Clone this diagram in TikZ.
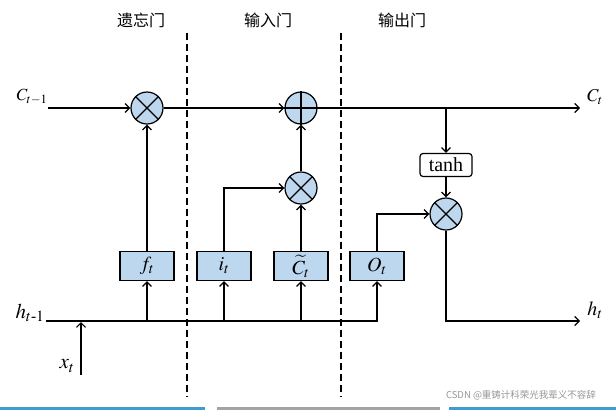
\documentclass[tikz,border=0pt]{standalone}
\usepackage{amsmath}
\usepackage{mathptmx}
\usepackage{fontspec}
\setmainfont{Liberation Serif}
\newfontfamily\cjk{Noto Sans CJK SC}
\usetikzlibrary{arrows.meta}
\definecolor{gatefill}{RGB}{189,215,238}
\definecolor{barblue}{RGB}{64,156,208}
\definecolor{bargray}{RGB}{163,163,163}
\definecolor{markgray}{RGB}{150,150,150}

\begin{document}
\begin{tikzpicture}[x=1pt, y=-1pt, line width=1.2pt,
        arr/.style={-{Straight Barb[length=4.5pt,width=9pt]}},
        gate/.style={draw, fill=gatefill, minimum width=54pt, minimum height=29pt, inner sep=0pt, font=\fontsize{20}{20}\selectfont},
        op/.style={draw, circle, fill=gatefill, minimum size=32pt, inner sep=0pt},
        title/.style={font=\cjk\fontsize{16}{16}\selectfont},
        lbl/.style={font=\fontsize{#1}{#1}\selectfont},
        sep/.style={dash pattern=on 7pt off 4pt, line width=1.5pt}
    ]
        \useasboundingbox ( 0, 0 ) rectangle ( 616, 410 );

        % заголовки
        \node[title] (tforget) at ( 141, 20 ) {遗忘门};
        \node[title] (tinput) at ( 268, 20 ) {输入门};
        \node[title] (toutput) at ( 402, 20 ) {输出门};

        % границы
        \draw[sep] ( 187, 33 ) -- ( 187, 397 );
        \draw[sep] ( 341, 33 ) -- ( 341, 397 );

        % операции
        \node[op] (mulf) at ( 147, 108 ) {};
        \node[op] (addc) at ( 301, 108 ) {};
        \node[op] (muli) at ( 301, 188 ) {};
        \node[op] (mulo) at ( 446, 214 ) {};
        \foreach \m in {mulf, muli, mulo}
            \draw (\m.north west) -- (\m.south east) (\m.north east) -- (\m.south west);
        \draw (addc.north) -- (addc.south) (addc.west) -- (addc.east);

        % вентили
        \node[gate] (ft) at ( 147, 266 ) {$f_t$};
        \node[gate] (it) at ( 224, 266 ) {$i_t$};
        \node[gate] (ct) at ( 301, 266 ) {$\widetilde{C}_t$};
        \node[gate] (ot) at ( 377, 266 ) {$O_t$};
        \node[draw, rounded corners=3pt, fill=white, minimum width=52pt, minimum height=23pt, inner sep=0pt,
            font=\fontsize{20}{20}\selectfont] (tanh) at ( 446, 165 ) {tanh};

        % вход
        \node[lbl=17] (cprev) at ( 32, 97 ) {$C_{t-1}$};
        \node[lbl=21] (hprev) at ( 30, 313 ) {$h_{t\text{-}1}$};
        \node[lbl=21] (xcur) at ( 67, 366 ) {$x_t$};
        \coordinate (cin) at ( 48, 108 );
        \coordinate (hin) at ( 46, 321 );
        \coordinate (xin) at ( 81, 375 );
        \coordinate (xtop) at ( 81, 322 );

        % выход
        \node[lbl=18] (cnext) at ( 595, 97 ) {$C_t$};
        \node[lbl=20] (hnext) at ( 595, 310 ) {$h_t$};
        \coordinate (cout) at ( 580, 108 );
        \coordinate (hout) at ( 580, 321 );
        \coordinate (tap) at ( 446, 108 );

        % состояние
        \draw[arr] (cin) -- (mulf);
        \draw[arr] (mulf) -- (addc);
        \draw[arr] (addc) -- (cout);
        \draw[arr] (tap) -- (tanh);
        \draw[arr] (tanh) -- (mulo);
        \draw[arr] (mulo) |- (hout);

        % h и x
        \draw[arr] (hin) -| (ot);
        \foreach \g in {ft, it, ct}
            \draw[arr] (\g |- hin) -- (\g);
        \draw[arr] (xin) -- (xtop);

        % вентили-операции
        \draw[arr] (ft) -- (mulf);
        \draw[arr] (it) |- (muli);
        \draw[arr] (ct) -- (muli);
        \draw[arr] (muli) -- (addc);
        \draw[arr] (ot) |- (mulo);

        % подпись
        \node[font=\cjk\fontsize{9.5}{9.5}\selectfont, text=markgray] (mark) at ( 521, 395 ) {CSDN @重铸计科荣光我辈义不容辞};
        \fill[barblue] ( 0, 407 ) rectangle ( 205, 410 );
        \fill[bargray] ( 217, 407 ) rectangle ( 440, 410 );
        \fill[barblue] ( 449, 407 ) rectangle ( 616, 410 );
    \end{tikzpicture}
\end{document}
